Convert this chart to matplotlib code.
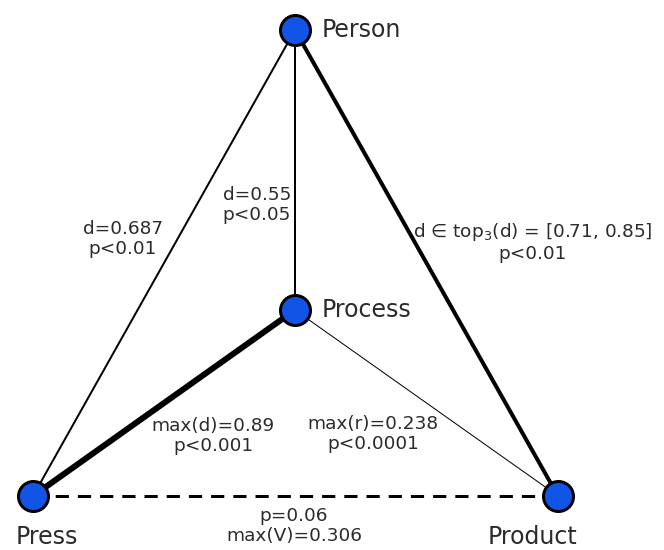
import matplotlib
matplotlib.use('Agg')
import matplotlib.pyplot as plt

matplotlib.rcParams.update({'font.family': 'DejaVu Sans'})

# nodes of the diagram (pixel layout of the reference)
nodes = ['Person', 'Process', 'Press', 'Product']
node_x = [295, 295, 33, 558]
node_y = [30, 310, 496, 496]

# edges: (from, to, line width in px, style)
edges = [('Person', 'Press', 2.0, '-'),
         ('Person', 'Process', 2.0, '-'),
         ('Person', 'Product', 4.0, '-'),
         ('Process', 'Press', 6.0, '-'),
         ('Process', 'Product', 1.0, '-'),
         ('Press', 'Product', 3.0, '--')]

edge_labels = ['d=0.687\np<0.01',
               'd=0.55\np<0.05',
               'd \u2208 top$_3$(d) = [0.71, 0.85]\np<0.01',
               'max(d)=0.89\np<0.001',
               'max(r)=0.238\np<0.0001',
               'p=0.06\nmax(V)=0.306']
label_x = [123, 257, 533, 213, 373, 294]
label_y = [239, 205, 242, 436, 434, 526]

# node names and where they sit relative to the node
name_x = [322, 322, 47, 532]
name_y = [30, 310, 537, 537]
name_ha = ['left', 'left', 'center', 'center']

px = 0.72  # points per pixel at dpi 100

fig = plt.figure(figsize=(6.64, 5.5), dpi=100)
ax = fig.add_axes([0, 0, 1, 1])
ax.set_xlim(0, 664)
ax.set_ylim(550, 0)
ax.axis('off')

pos = {n: (x, y) for n, x, y in zip(nodes, node_x, node_y)}
for a, b, w, ls in edges:
    xa, ya = pos[a]
    xb, yb = pos[b]
    if ls == '--':
        ax.plot([xa, xb], [ya, yb], color='black', lw=w * px, ls=(0, (4.4, 3.0)),
                zorder=1, dash_capstyle='butt')
    else:
        ax.plot([xa, xb], [ya, yb], color='black', lw=w * px, zorder=1, solid_capstyle='butt')

ax.scatter(node_x, node_y, s=(30 * px) ** 2, color='#1255e6', edgecolors='black',
           linewidths=3 * px, zorder=3)

for t, x, y in zip(edge_labels, label_x, label_y):
    ax.text(x, y, t, ha='center', va='center', fontsize=13.3, color='#2b2b2b',
            linespacing=1.2, zorder=4)

for t, x, y, ha in zip(nodes, name_x, name_y, name_ha):
    ax.text(x, y, t, ha=ha, va='center', fontsize=17, color='#2b2b2b')

fig.savefig('out.png', dpi=100)
